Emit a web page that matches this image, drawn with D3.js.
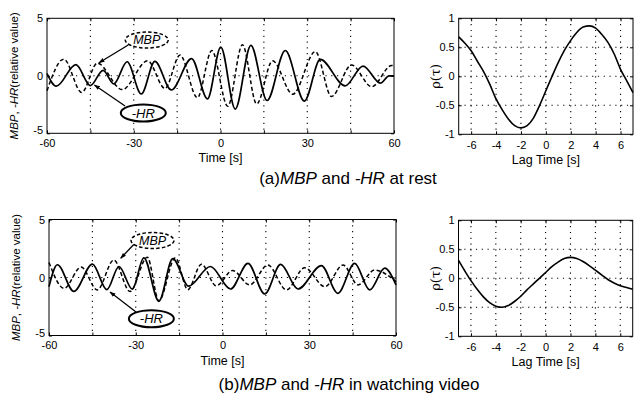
<!DOCTYPE html>
<html><head><meta charset="utf-8">
<script src="https://cdn.jsdelivr.net/npm/d3@7"></script>
<style>
body{margin:0;background:#fff}
svg{display:block}
text{font-family:"Liberation Sans",Arial,Helvetica,sans-serif;fill:#000}
</style></head><body>
<svg id="c" width="639" height="393"></svg>
<script>
// ---------- data ----------
const timeTicks = [-60,-45,-30,-15,0,15,30,45,60];
const timeLabelTicks = [-60,-30,0,30,60];
const valueTicks = [-5,0,5];
const lagTicks = [-6,-4,-2,0,2,4,6];
const rhoTicks = [-1,-0.5,0,0.5,1];

// (a) at rest: MBP (dashed) and -HR (solid)
const restMbpT = [-60,-54.2,-48,-42.6,-34,-25.2,-19.2,-14,-8,-3,2.5,7.6,12.5,18,25,32.8,38.4,45.3,52.3,59.2,60];
const restMbpV = [-1.3,1.45,-1.45,1.1,-1.2,1.3,-1.1,1.8,-1.9,2.2,-2.65,2.7,-2.45,1.3,-1.6,2.1,-1.8,0.95,-0.95,0.9,0.85];
const restHrT = [-60,-56.8,-50,-45,-40.6,-36.9,-32.3,-27.4,-22.7,-17,-10,-4.5,0.1,5.1,10.5,16.1,22.4,29,34.5,43.1,49.3,55.3,58.3,60];
const restHrV = [0.2,-0.9,0.98,-0.85,0.48,-0.7,1.22,-1.58,1.25,-1.23,1.5,-2.0,2.5,-2.9,2.65,-2.15,2.2,-2.2,1.42,-0.87,0.85,-0.64,0,0];

// (b) watching video
const videoMbpT = [-60,-54.8,-48.9,-43.3,-37.6,-32,-26,-22,-16.3,-12,-7.3,-2.2,3.5,9.4,15.7,22.1,28.4,35.4,41.7,46.9,52.6,60];
const videoMbpV = [1.3,-0.93,0.9,-1.07,1.5,-1.2,1.75,-2.0,1.7,-1.05,1.15,-0.72,0.6,-0.64,1.07,-1.07,0.84,-0.79,1.07,-0.64,0.64,-0.36];
const videoHrT = [-60,-57.1,-51.4,-45,-40,-35.8,-31.2,-27.2,-22,-17.2,-11.7,-4.2,2.8,8.8,14.6,20.1,26.1,34.2,39.9,45.7,50.9,56.1,60];
const videoHrV = [-0.79,1.1,-1.2,1.15,-1.05,0.95,-1.0,1.7,-2.05,1.62,-0.75,0.95,-0.99,1.22,-1.42,1.13,-0.99,1.02,-1.36,1.22,-1.07,0.8,-0.64];

// cross-correlation
const lags = [-7,-6.5,-6,-5.5,-5,-4.5,-4,-3.5,-3,-2.5,-2,-1.5,-1,-0.5,0,0.5,1,1.5,2,2.5,3,3.5,4,4.5,5,5.5,6,6.5,7];
const rhoRest = [0.68,0.57,0.44,0.26,0.08,-0.14,-0.39,-0.58,-0.74,-0.85,-0.89,-0.85,-0.72,-0.5,-0.25,0.0,0.24,0.45,0.62,0.76,0.85,0.87,0.83,0.72,0.58,0.38,0.12,-0.08,-0.28];
const rhoVideo = [0.31,0.13,-0.04,-0.19,-0.32,-0.42,-0.48,-0.50,-0.47,-0.40,-0.31,-0.2,-0.1,0.0,0.1,0.2,0.28,0.34,0.36,0.34,0.29,0.22,0.14,0.06,-0.02,-0.08,-0.13,-0.16,-0.19];

const captions = [
  [["(a)",false],["MBP",true],[" and ",false],["-HR",true],[" at rest",false]],
  [["(b)",false],["MBP",true],[" and ",false],["-HR",true],[" in watching video",false]]
];
// annotation anchors in data units [t, value]
const annotRest = {mbp:[-25.5,3.11], mbpFrom:[-31.9,2.68], mbpTo:[-42.0,1.14], hr:[-26.7,-3.23], hrFrom:[-33,-2.63], hrTo:[-43.6,-0.8]};
const annotVideo = {mbp:[-24.2,3.19], mbpFrom:[-30.6,2.86], mbpTo:[-35.2,1.66], hr:[-24.6,-3.55], hrFrom:[-29.9,-2.97], hrTo:[-38.9,-1.25]};

// ---------- drawing ----------
const svg = d3.select("#c");
const defs = svg.append("defs");
defs.append("marker").attr("id","ah").attr("viewBox","0 0 10 10").attr("refX",9).attr("refY",5)
  .attr("markerWidth",6).attr("markerHeight",6).attr("markerUnits","userSpaceOnUse").attr("orient","auto")
  .append("path").attr("d","M0,1.5L10,5L0,8.5z").attr("fill","#000");

const FS = 11;
const TITLE_FS = 12.5;
const dotted = "1.2,4.6";
const fmt = d => String(d);

function frame(g, x0,x1,y0,y1){
  g.append("rect").attr("x",x0).attr("y",y0).attr("width",x1-x0).attr("height",y1-y0)
   .attr("fill","none").attr("stroke","#000").attr("stroke-width",1);
}
function cleanAxes(g){
  g.selectAll(".domain").remove();
  g.selectAll("g").attr("font-family",null).attr("font-size",null);
  g.selectAll(".tick line").attr("stroke","#000");
  g.selectAll(".tick text").attr("font-size",FS);
}

function timePanel(box, mbpT, mbpV, hrT, hrV, ann){
  const g = svg.append("g");
  const x = d3.scaleLinear([-60,60],[box.x0,box.x1]);
  const y = d3.scaleLinear([-5,5],[box.y1,box.y0]);
  g.selectAll(".vg").data(timeTicks.filter(t=>t>-60&&t<60)).join("line")
    .attr("x1",d=>x(d)).attr("x2",d=>x(d)).attr("y1",box.y0).attr("y2",box.y1)
    .attr("stroke","#000").attr("stroke-width",1.1).attr("stroke-dasharray",dotted);
  g.selectAll(".hg").data(valueTicks.filter(v=>v>-5&&v<5)).join("line")
    .attr("x1",box.x0).attr("x2",box.x1).attr("y1",d=>y(d)).attr("y2",d=>y(d))
    .attr("stroke","#000").attr("stroke-width",1.1).attr("stroke-dasharray",dotted);
  const line = d3.line().x(d=>x(d[0])).y(d=>y(d[1])).curve(d3.curveMonotoneX);
  g.append("path").attr("d",line(d3.zip(mbpT,mbpV))).attr("fill","none").attr("stroke","#000")
    .attr("stroke-width",1.5).attr("stroke-dasharray","4,2.5");
  g.append("path").attr("d",line(d3.zip(hrT,hrV))).attr("fill","none").attr("stroke","#000")
    .attr("stroke-width",1.7);
  g.append("g").attr("transform",`translate(0,${box.y1})`)
    .call(d3.axisBottom(x).tickValues(timeTicks).tickSizeInner(-3).tickSizeOuter(0).tickPadding(6)
      .tickFormat(d=>timeLabelTicks.includes(d)?fmt(d):""));
  g.append("g").attr("transform",`translate(0,${box.y0})`)
    .call(d3.axisTop(x).tickValues(timeTicks).tickSizeInner(-3).tickSizeOuter(0).tickFormat(""));
  const ay = g.append("g").attr("transform",`translate(${box.x0},0)`)
    .call(d3.axisLeft(y).tickValues(valueTicks).tickSizeInner(-3).tickSizeOuter(0).tickPadding(4).tickFormat(fmt));
  ay.selectAll(".tick text").filter(d=>d===-5).attr("dy","0.05em");
  g.append("g").attr("transform",`translate(${box.x1},0)`)
    .call(d3.axisRight(y).tickValues(valueTicks).tickSizeInner(-3).tickSizeOuter(0).tickFormat(""));
  cleanAxes(g);
  frame(g, box.x0,box.x1,box.y0,box.y1);
  g.append("text").attr("x",(box.x0+box.x1)/2).attr("y",box.y1+29).attr("text-anchor","middle")
    .attr("font-size",TITLE_FS).text("Time [s]");
  const yl = g.append("text").attr("transform",`translate(${box.x0-29},${(box.y0+box.y1)/2}) rotate(-90)`)
    .attr("text-anchor","middle").attr("font-size",11.5);
  yl.append("tspan").attr("font-style","italic").text("MBP");
  yl.append("tspan").text(", ");
  yl.append("tspan").attr("font-style","italic").text("-HR");
  yl.append("tspan").text("(relative value)");
  const P = a => [x(a[0]), y(a[1])];
  const m = P(ann.mbp), h = P(ann.hr);
  g.append("line").attr("x1",P(ann.mbpFrom)[0]).attr("y1",P(ann.mbpFrom)[1]).attr("x2",P(ann.mbpTo)[0]).attr("y2",P(ann.mbpTo)[1])
    .attr("stroke","#000").attr("stroke-width",1.3).attr("marker-end","url(#ah)");
  g.append("line").attr("x1",P(ann.hrFrom)[0]).attr("y1",P(ann.hrFrom)[1]).attr("x2",P(ann.hrTo)[0]).attr("y2",P(ann.hrTo)[1])
    .attr("stroke","#000").attr("stroke-width",1.3).attr("marker-end","url(#ah)");
  g.append("ellipse").attr("cx",m[0]).attr("cy",m[1]).attr("rx",21.5).attr("ry",8)
    .attr("fill","#fff").attr("stroke","#000").attr("stroke-width",1.5).attr("stroke-dasharray","3.5,2.2");
  g.append("text").attr("x",m[0]).attr("y",m[1]+4.3).attr("text-anchor","middle").attr("font-size",12.5)
    .attr("font-style","italic").text("MBP");
  g.append("ellipse").attr("cx",h[0]).attr("cy",h[1]).attr("rx",22.5).attr("ry",8.5)
    .attr("fill","#fff").attr("stroke","#000").attr("stroke-width",2);
  g.append("text").attr("x",h[0]).attr("y",h[1]+4.6).attr("text-anchor","middle").attr("font-size",13)
    .attr("font-style","italic").text("-HR");
}

function lagPanel(box, rho){
  const g = svg.append("g");
  const x = d3.scaleLinear([-7,7],[box.x0,box.x1]);
  const y = d3.scaleLinear([-1,1],[box.y1,box.y0]);
  g.selectAll(".vg").data(lagTicks).join("line")
    .attr("x1",d=>x(d)).attr("x2",d=>x(d)).attr("y1",box.y0).attr("y2",box.y1)
    .attr("stroke","#000").attr("stroke-width",1.1).attr("stroke-dasharray",dotted);
  g.selectAll(".hg").data(rhoTicks.filter(v=>v>-1&&v<1)).join("line")
    .attr("x1",box.x0).attr("x2",box.x1).attr("y1",d=>y(d)).attr("y2",d=>y(d))
    .attr("stroke","#000").attr("stroke-width",1.1).attr("stroke-dasharray",dotted);
  const line = d3.line().x(d=>x(d[0])).y(d=>y(d[1])).curve(d3.curveMonotoneX);
  g.append("path").attr("d",line(d3.zip(lags,rho))).attr("fill","none").attr("stroke","#000").attr("stroke-width",1.6);
  g.append("g").attr("transform",`translate(0,${box.y1})`)
    .call(d3.axisBottom(x).tickValues(lagTicks).tickSizeInner(-3).tickSizeOuter(0).tickPadding(7).tickFormat(fmt));
  g.append("g").attr("transform",`translate(0,${box.y0})`)
    .call(d3.axisTop(x).tickValues(lagTicks).tickSizeInner(-3).tickSizeOuter(0).tickFormat(""));
  g.append("g").attr("transform",`translate(${box.x0},0)`)
    .call(d3.axisLeft(y).tickValues(rhoTicks).tickSizeInner(-3).tickSizeOuter(0).tickPadding(4).tickFormat(fmt));
  g.append("g").attr("transform",`translate(${box.x1},0)`)
    .call(d3.axisRight(y).tickValues(rhoTicks).tickSizeInner(-3).tickSizeOuter(0).tickFormat(""));
  cleanAxes(g);
  frame(g, box.x0,box.x1,box.y0,box.y1);
  g.append("text").attr("x",(box.x0+box.x1)/2).attr("y",box.y1+30).attr("text-anchor","middle")
    .attr("font-size",TITLE_FS).text("Lag Time [s]");
  g.append("text").attr("transform",`translate(${box.x0-23},${(box.y0+box.y1)/2}) rotate(-90)`)
    .attr("text-anchor","middle").attr("dy","0.35em").attr("font-size",13)
    .style("font-family","'DejaVu Serif','Liberation Serif',serif").text("ρ(τ)");
}

function caption(cx, cy, parts){
  const t = svg.append("text").attr("x",cx).attr("y",cy).attr("text-anchor","middle").attr("font-size",17);
  parts.forEach(p=>t.append("tspan").attr("font-style",p[1]?"italic":"normal").text(p[0]));
}

timePanel({x0:47,x1:394,y0:18.3,y1:133.3}, restMbpT, restMbpV, restHrT, restHrV, annotRest);
lagPanel({x0:458.7,x1:633,y0:18.3,y1:134.3}, rhoRest);
caption(348, 184, captions[0]);
timePanel({x0:49,x1:396,y0:219.5,y1:335.5}, videoMbpT, videoMbpV, videoHrT, videoHrV, annotVideo);
lagPanel({x0:458.5,x1:632.7,y0:220.3,y1:336.3}, rhoVideo);
caption(349, 390, captions[1]);
</script>
</body></html>
